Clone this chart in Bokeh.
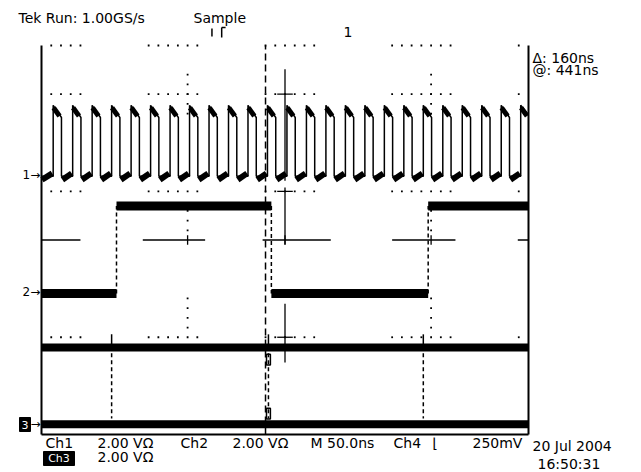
from bokeh.plotting import figure
from bokeh.models import Range1d
from bokeh.core.properties import value
from bokeh.embed import file_html
from bokeh.resources import INLINE

# ---------------- data (time in ns, amplitude in divisions) ----------------
ch1_rise_ns = [12, 32, 52, 72, 92, 112, 132, 152, 172, 192, 212, 232, 252,
               272, 292, 312, 332, 352, 372, 392, 412, 432, 452, 472, 492]
ch1_fall_ns = [20.5, 40.5, 60.5, 80.5, 100.5, 120.5, 140.5, 160.5, 180.5,
               200.5, 220.5, 240.5, 260.5, 280.5, 300.5, 320.5, 340.5, 360.5,
               380.5, 400.5, 420.5, 440.5, 460.5, 480.5]
ch1_high_start = 2.77
ch1_high_end = 2.52
ch1_low = 1.31

ch2_bounds_ns = [0, 77, 236, 397, 500]
ch2_levels = [-1.10, 0.70, -1.10, 0.70]

ch3_level = -2.21
ch4_level = -3.79
glitch_ns = [72, 233, 392]

cursor_ns = [230]
trigger_pos_ns = [180]

grid_rows_dotted = [4, 3, 1, -2]
grid_cols_dotted = [150, 400]

# ---------------- geometry helpers (page pixels -> data) ----------------
W, H = 640, 472
PX_NS = 487 / 500.0
PX_DIV = 389 / 8.0
TXT_DY = 5.5  # compensation so that the rendered baseline lands where measured


def X(px):
    return (px - 41) / PX_NS


def Y(py):
    return 4 - (py - 45) / PX_DIV


def YT(py):
    return Y(py - TXT_DY)


p = figure(width=W, height=H,
           x_range=Range1d(X(0), X(W)), y_range=Range1d(Y(H), Y(0)),
           x_axis_type=None, y_axis_type=None, toolbar_location=None,
           output_backend="svg", min_border=0,
           background_fill_color="white", border_fill_color="white",
           outline_line_color=None)
p.grid.visible = False

K = "black"

# ---------------- graticule ----------------
dot_windows = [(10, 40), (110, 160), (230, 280), (360, 420), (490, 490)]
dx, dy = [], []
for r in grid_rows_dotted:
    for a, b in dot_windows:
        t = a
        while t <= b:
            dx.append(t)
            dy.append(r)
            t += 10
vy_windows = [(2.6, 3.4), (0.2, 0.6), (-1.8, -1.2)]
for c in grid_cols_dotted:
    for a, b in vy_windows:
        v = a
        while v <= b + 1e-9:
            dx.append(c)
            dy.append(v)
            v += 0.2
p.scatter(dx, dy, marker="square", size=1.8, color=K, line_width=0)

# center horizontal line segments
hwin = [(0, 40), (104, 168), (227, 297), (360, 425), (489, 500)]
p.segment([a for a, b in hwin], [0] * len(hwin), [b for a, b in hwin], [0] * len(hwin),
          line_color=K, line_width=1.3)
p.segment([150, 250, 400], [-0.1] * 3, [150, 250, 400], [0.1] * 3, line_color=K, line_width=1.3)
# center vertical line segments
vwin = [(1.22, 3.51), (-0.09, 1.08), (-2.52, -1.31)]
p.segment([250] * 3, [a for a, b in vwin], [250] * 3, [b for a, b in vwin],
          line_color=K, line_width=1.3)
p.segment([242] * 3, [3, 1, -2], [258] * 3, [3, 1, -2], line_color=K, line_width=1.3)

# borders (no top border)
p.segment([0, 500, 0], [-4, -4, -4], [0, 500, 500], [4, 4, -4], line_color=K, line_width=2)

# cursor
p.segment(cursor_ns, [-4], cursor_ns, [4], line_color=K, line_width=1.5, line_dash="7 4")

# ---------------- channel 1 ----------------
xs, ys = [0], [ch1_low]
for i, r in enumerate(ch1_rise_ns):
    xs += [r, r]
    ys += [ch1_low, ch1_high_start]
    if i < len(ch1_fall_ns):
        f = ch1_fall_ns[i]
        xs += [f, f]
        ys += [ch1_high_end, ch1_low]
    else:
        xs += [500]
        ys += [ch1_high_end + 0.05]
p.line(xs, ys, line_color=K, line_width=1.5)
p.segment([r + 0.4 for r in ch1_rise_ns], [ch1_high_start - 0.05] * len(ch1_rise_ns),
          [min(r + 6.5, 499) for r in ch1_rise_ns], [ch1_high_end + 0.03] * len(ch1_rise_ns),
          line_color=K, line_width=5)
low_starts = [0.5] + [f + 1 for f in ch1_fall_ns]
low_ends = [r - 1 for r in ch1_rise_ns]
p.segment(low_starts, [ch1_low - 0.07] * len(low_ends), low_ends, [ch1_low + 0.06] * len(low_ends),
          line_color=K, line_width=6)

# ---------------- channel 2 ----------------
p.segment(ch2_bounds_ns[:-1], ch2_levels, ch2_bounds_ns[1:], ch2_levels,
          line_color=K, line_width=9)
edge_x = ch2_bounds_ns[1:-1]
p.segment(edge_x, ch2_levels[:-1], edge_x, ch2_levels[1:], line_color=K, line_width=1.5,
          line_dash="4 3")

# ---------------- channels 3 / 4 ----------------
p.segment([0, 0], [ch3_level, ch4_level], [500, 500], [ch3_level, ch4_level],
          line_color=K, line_width=8)
p.segment(glitch_ns, [ch3_level - 0.12] * 3, glitch_ns, [ch4_level + 0.12] * 3,
          line_color=K, line_width=1.5, line_dash="4 3")
p.segment(glitch_ns, [ch3_level] * 3, glitch_ns, [ch3_level + 0.27] * 3,
          line_color=K, line_width=1.5)
p.rect([glitch_ns[1]] * 2, [ch3_level - 0.25, ch4_level + 0.22], width=4, height=0.22,
       fill_color=None, line_color=K, line_width=1.5)

# ---------------- markers & texts ----------------
F = value("DejaVu Sans")
texts = [
    ("Tek Run: 1.00GS/s", 18, 23), ("Sample", 193, 23), ("1", 343, 37),
    ("\u0394: 160ns", 532, 63), ("@: 441ns", 532, 75),
    ("Ch1", 45, 448), ("2.00 V\u03a9", 97, 448), ("Ch2", 180, 448), ("2.00 V\u03a9", 232, 448),
    ("M 50.0ns", 310, 448), ("Ch4", 393, 448), ("\u230a", 432, 448), ("250mV", 472, 448),
    ("2.00 V\u03a9", 97, 462), ("20 Jul 2004", 532, 451), ("16:50:31", 537, 469),
]
p.text([X(t[1]) for t in texts], [YT(t[2]) for t in texts], [t[0] for t in texts],
       text_font=F, text_font_size=value("14px"), text_color=K,
       text_align="left", text_baseline="alphabetic")

small = [("1\u2192", 22, 180), ("2\u2192", 22, 297), ("\u2192", 30, 429)]
p.text([X(t[1]) for t in small], [YT(t[2]) for t in small], [t[0] for t in small],
       text_font=F, text_font_size=value("12px"), text_color=K,
       text_align="left", text_baseline="alphabetic")

# inverse boxes (selected channel 3)
p.quad(left=[X(43), X(19)], right=[X(74), X(30)], top=[Y(451), Y(417)], bottom=[Y(465), Y(431)],
       color=K)
p.text([X(58.5), X(24.5)], [Y(458), Y(424)], ["Ch3", "3"], text_font=F,
       text_font_size=value("11px"), text_color="white", text_align="center",
       text_baseline="middle")

# trigger position marker at top
tp = trigger_pos_ns[0]
p.segment([tp - 5, tp + 5, tp + 5], [Y(28), Y(27), Y(27)], [tp - 5, tp + 5, tp + 9],
          [Y(36), Y(37), Y(27)], line_color=K, line_width=1.5)

open("out.html", "w").write(file_html(p, INLINE))
